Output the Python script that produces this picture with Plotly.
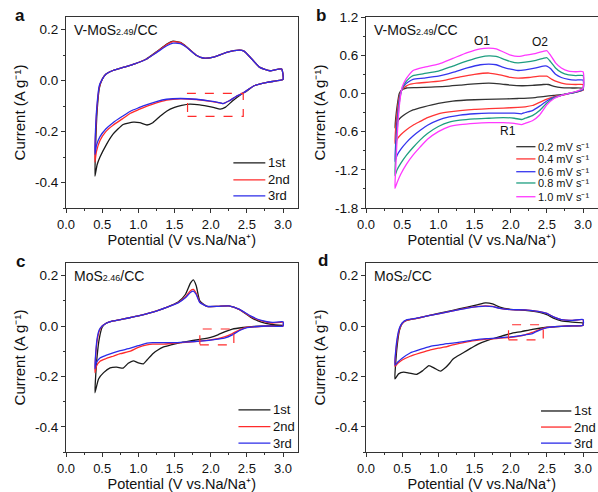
import plotly.graph_objects as go

# ---------------- data (potential in V, current in A/g) ----------------
cycle_names = ["1st", "2nd", "3rd"]
rate_names = ["0.2 mV s\u207b\u00b9", "0.4 mV s\u207b\u00b9", "0.6 mV s\u207b\u00b9",
              "0.8 mV s\u207b\u00b9", "1.0 mV s\u207b\u00b9"]

x_tick_vals = [0.0, 0.5, 1.0, 1.5, 2.0, 2.5, 3.0]
x_tick_text = ["0.0", "0.5", "1.0", "1.5", "2.0", "2.5", "3.0"]
y_tick_vals_small = [-0.4, -0.2, 0.0, 0.2]
y_tick_text_small = ["-0.4", "-0.2", "0.0", "0.2"]
y_tick_vals_b = [-1.8, -1.2, -0.6, 0.0, 0.6, 1.2]
y_tick_text_b = ["-1.8", "-1.2", "-0.6", "0.0", "0.6", "1.2"]

# panel a : V-MoS2.49/CC
a_1st_v = [3.00, 2.90, 2.78, 2.60, 2.50, 2.40, 2.30, 2.20, 2.13, 2.05, 1.95, 1.85, 1.71, 1.60, 1.50, 1.39, 1.30, 1.20,
           1.12, 1.02, 0.93, 0.79, 0.65, 0.56, 0.47, 0.43, 0.40,
           0.41, 0.43, 0.46, 0.50, 0.55, 0.65, 0.80, 0.95, 1.10, 1.25, 1.40, 1.48, 1.58, 1.67, 1.80, 1.90, 2.04,
           2.22, 2.40, 2.46, 2.54, 2.68, 2.82, 2.98, 3.00]
a_1st_i = [0.005, -0.001, -0.007, -0.02, -0.04, -0.058, -0.08, -0.105, -0.112, -0.106, -0.1, -0.095, -0.092, -0.097,
           -0.105, -0.12, -0.14, -0.165, -0.174, -0.165, -0.163, -0.172, -0.21, -0.25, -0.3, -0.33, -0.375,
           -0.25, -0.12, -0.03, 0.005, 0.025, 0.04, 0.053, 0.066, 0.083, 0.113, 0.145, 0.155, 0.15, 0.132, 0.1,
           0.088, 0.092, 0.111, 0.12, 0.116, 0.094, 0.052, 0.039, 0.046, 0.005]
a_2nd_v = [3.00, 2.90, 2.78, 2.60, 2.45, 2.35, 2.25, 2.17, 2.10, 2.00, 1.80, 1.58, 1.39, 1.25, 1.12, 1.00, 0.89, 0.78,
           0.65, 0.55, 0.47, 0.42, 0.40,
           0.41, 0.43, 0.46, 0.50, 0.55, 0.65, 0.80, 0.95, 1.10, 1.25, 1.40, 1.48, 1.58, 1.67, 1.80, 1.90, 2.04,
           2.22, 2.40, 2.46, 2.54, 2.68, 2.82, 2.98, 3.00]
a_2nd_i = [0.005, -0.001, -0.007, -0.02, -0.048, -0.062, -0.08, -0.09, -0.086, -0.081, -0.074, -0.071, -0.076, -0.087,
           -0.1, -0.114, -0.128, -0.15, -0.175, -0.2, -0.235, -0.28, -0.32,
           -0.2, -0.1, -0.025, 0.005, 0.025, 0.04, 0.053, 0.066, 0.083, 0.112, 0.143, 0.153, 0.149, 0.131, 0.1,
           0.089, 0.092, 0.111, 0.12, 0.116, 0.094, 0.052, 0.039, 0.046, 0.005]
a_3rd_v = [3.00, 2.90, 2.78, 2.60, 2.45, 2.35, 2.25, 2.17, 2.10, 2.00, 1.80, 1.58, 1.39, 1.25, 1.12, 1.00, 0.89, 0.78,
           0.65, 0.55, 0.47, 0.42, 0.40,
           0.41, 0.43, 0.46, 0.50, 0.55, 0.65, 0.80, 0.95, 1.10, 1.25, 1.40, 1.48, 1.58, 1.67, 1.80, 1.90, 2.04,
           2.22, 2.40, 2.46, 2.54, 2.68, 2.82, 2.98, 3.00]
a_3rd_i = [0.005, -0.001, -0.007, -0.02, -0.048, -0.062, -0.08, -0.09, -0.085, -0.08, -0.073, -0.07, -0.073, -0.082,
           -0.094, -0.107, -0.12, -0.14, -0.165, -0.19, -0.22, -0.255, -0.29,
           -0.18, -0.09, -0.02, 0.005, 0.025, 0.04, 0.053, 0.066, 0.083, 0.11, 0.138, 0.147, 0.145, 0.13, 0.1,
           0.089, 0.092, 0.111, 0.12, 0.116, 0.094, 0.052, 0.039, 0.046, 0.005]

# panel b : V-MoS2.49/CC at different scan rates
b_02_v = [3.00, 2.90, 2.75, 2.60, 2.45, 2.30, 2.10, 1.80, 1.50, 1.20, 1.00, 0.80, 0.65, 0.55, 0.48, 0.43, 0.40,
          0.41, 0.43, 0.46, 0.50, 0.56, 0.70, 0.90, 1.10, 1.30, 1.50, 1.70, 1.85, 2.00, 2.15, 2.30, 2.45, 2.52,
          2.60, 2.70, 2.85, 3.00, 3.00]
b_02_i = [0.05, 0.02, -0.01, -0.03, -0.05, -0.07, -0.08, -0.09, -0.10, -0.12, -0.155, -0.21, -0.26, -0.32, -0.38,
          -0.45, -0.54,
          -0.40, -0.20, 0.00, 0.06, 0.085, 0.09, 0.10, 0.11, 0.13, 0.15, 0.16, 0.15, 0.13, 0.12, 0.125, 0.14, 0.14,
          0.11, 0.09, 0.085, 0.08, 0.05]
b_04_v = [3.00, 2.90, 2.80, 2.70, 2.60, 2.50, 2.40, 2.30, 2.20, 2.10, 1.90, 1.70, 1.50, 1.30, 1.15, 1.00, 0.85, 0.75,
          0.65, 0.56, 0.48, 0.43, 0.40,
          0.41, 0.43, 0.46, 0.50, 0.55, 0.60, 0.70, 0.90, 1.10, 1.30, 1.50, 1.70, 1.85, 2.00, 2.10, 2.25, 2.40,
          2.50, 2.57, 2.65, 2.75, 2.90, 3.00, 3.00]
b_04_i = [0.05, 0.02, -0.005, -0.03, -0.05, -0.09, -0.14, -0.19, -0.21, -0.22, -0.23, -0.24, -0.25, -0.27, -0.29,
          -0.32, -0.38, -0.44, -0.50, -0.57, -0.65, -0.72, -0.79,
          -0.55, -0.30, -0.05, 0.06, 0.11, 0.14, 0.16, 0.18, 0.21, 0.26, 0.30, 0.32, 0.29, 0.25, 0.24, 0.25, 0.27,
          0.27, 0.22, 0.18, 0.15, 0.14, 0.14, 0.05]
b_06_v = [3.00, 2.90, 2.80, 2.70, 2.60, 2.50, 2.40, 2.30, 2.20, 2.15, 2.05, 1.90, 1.70, 1.50, 1.30, 1.15, 1.00, 0.85,
          0.75, 0.65, 0.56, 0.48, 0.43, 0.40,
          0.41, 0.43, 0.46, 0.50, 0.55, 0.60, 0.65, 0.80, 1.00, 1.20, 1.40, 1.58, 1.70, 1.80, 1.90, 2.00, 2.10,
          2.20, 2.35, 2.45, 2.50, 2.55, 2.62, 2.70, 2.80, 2.90, 3.00, 3.00]
b_06_i = [0.06, 0.02, -0.005, -0.03, -0.06, -0.12, -0.20, -0.27, -0.30, -0.32, -0.31, -0.31, -0.31, -0.32, -0.34,
          -0.37, -0.42, -0.50, -0.58, -0.67, -0.77, -0.88, -0.97, -1.07,
          -0.80, -0.45, -0.10, 0.07, 0.15, 0.19, 0.22, 0.24, 0.27, 0.33, 0.40, 0.45, 0.46, 0.45, 0.41, 0.38, 0.36,
          0.37, 0.40, 0.43, 0.43, 0.39, 0.30, 0.25, 0.22, 0.21, 0.21, 0.06]
b_08_v = [3.00, 2.90, 2.80, 2.70, 2.60, 2.50, 2.40, 2.30, 2.20, 2.15, 2.05, 1.90, 1.70, 1.50, 1.30, 1.15, 1.00, 0.85,
          0.75, 0.65, 0.56, 0.48, 0.43, 0.40,
          0.41, 0.43, 0.46, 0.50, 0.55, 0.60, 0.65, 0.80, 1.00, 1.20, 1.40, 1.58, 1.70, 1.80, 1.90, 2.00, 2.10,
          2.20, 2.35, 2.45, 2.50, 2.55, 2.62, 2.70, 2.80, 2.90, 3.00, 3.00]
b_08_i = [0.07, 0.025, 0.0, -0.03, -0.07, -0.15, -0.27, -0.35, -0.39, -0.41, -0.39, -0.38, -0.39, -0.40, -0.42,
          -0.45, -0.52, -0.63, -0.73, -0.85, -0.97, -1.10, -1.20, -1.29,
          -1.00, -0.60, -0.15, 0.08, 0.18, 0.24, 0.28, 0.31, 0.35, 0.43, 0.51, 0.57, 0.59, 0.58, 0.54, 0.50, 0.48,
          0.49, 0.52, 0.55, 0.56, 0.50, 0.40, 0.33, 0.29, 0.28, 0.28, 0.07]
b_10_v = [3.00, 2.90, 2.80, 2.70, 2.60, 2.50, 2.40, 2.30, 2.20, 2.15, 2.05, 1.90, 1.70, 1.50, 1.30, 1.15, 1.00, 0.85,
          0.75, 0.65, 0.56, 0.48, 0.43, 0.40,
          0.41, 0.43, 0.46, 0.50, 0.55, 0.60, 0.65, 0.80, 1.00, 1.20, 1.40, 1.58, 1.70, 1.80, 1.90, 2.00, 2.10,
          2.20, 2.35, 2.45, 2.50, 2.55, 2.62, 2.70, 2.80, 2.90, 3.00, 3.00]
b_10_i = [0.08, 0.03, 0.0, -0.03, -0.08, -0.18, -0.34, -0.43, -0.47, -0.49, -0.47, -0.46, -0.46, -0.47, -0.49,
          -0.52, -0.60, -0.72, -0.84, -0.97, -1.11, -1.27, -1.40, -1.49,
          -1.20, -0.70, -0.20, 0.10, 0.22, 0.30, 0.36, 0.41, 0.46, 0.55, 0.64, 0.70, 0.71, 0.70, 0.65, 0.60, 0.58,
          0.60, 0.63, 0.66, 0.67, 0.60, 0.48, 0.40, 0.35, 0.34, 0.34, 0.08]

# panel c : MoS2.46/CC
c_1st_v = [3.00, 2.80, 2.60, 2.45, 2.30, 2.20, 2.10, 2.00, 1.85, 1.70, 1.58, 1.45, 1.35, 1.27, 1.20, 1.12, 1.07, 1.00,
           0.93, 0.86, 0.79, 0.70, 0.61, 0.52, 0.45, 0.40,
           0.41, 0.43, 0.46, 0.50, 0.55, 0.65, 0.80, 1.00, 1.20, 1.40, 1.55, 1.65, 1.72, 1.76, 1.80, 1.85, 1.95,
           2.10, 2.25, 2.40, 2.55, 2.70, 2.85, 3.00]
c_1st_i = [0.0, 0.0, -0.002, -0.006, -0.012, -0.022, -0.035, -0.045, -0.053, -0.06, -0.066, -0.075, -0.083, -0.095,
           -0.11, -0.135, -0.15, -0.146, -0.138, -0.148, -0.167, -0.163, -0.166, -0.185, -0.21, -0.265,
           -0.2, -0.12, -0.05, -0.005, 0.01, 0.02, 0.028, 0.04, 0.055, 0.075, 0.095, 0.125, 0.17, 0.183, 0.16, 0.1,
           0.078, 0.078, 0.08, 0.065, 0.035, 0.015, 0.006, 0.002]
c_2nd_v = [3.00, 2.80, 2.60, 2.50, 2.40, 2.30, 2.20, 2.10, 2.00, 1.85, 1.70, 1.50, 1.35, 1.20, 1.12, 1.00, 0.89, 0.75,
           0.65, 0.55, 0.47, 0.42, 0.40,
           0.41, 0.43, 0.46, 0.50, 0.55, 0.65, 0.80, 1.00, 1.20, 1.40, 1.55, 1.65, 1.72, 1.76, 1.80, 1.85, 1.95,
           2.10, 2.25, 2.40, 2.55, 2.70, 2.85, 3.00, 3.00]
c_2nd_i = [0.0, 0.0, -0.003, -0.005, -0.015, -0.03, -0.042, -0.05, -0.055, -0.06, -0.064, -0.068, -0.072, -0.072,
           -0.075, -0.085, -0.1, -0.11, -0.12, -0.13, -0.14, -0.16, -0.185,
           -0.12, -0.06, -0.02, 0.0, 0.01, 0.02, 0.028, 0.04, 0.055, 0.075, 0.093, 0.115, 0.14, 0.145, 0.13, 0.095,
           0.078, 0.078, 0.08, 0.065, 0.038, 0.02, 0.012, 0.015, 0.0]
c_3rd_v = [3.00, 2.80, 2.60, 2.50, 2.40, 2.30, 2.20, 2.10, 2.00, 1.85, 1.70, 1.50, 1.35, 1.20, 1.12, 1.00, 0.89, 0.75,
           0.65, 0.55, 0.47, 0.42, 0.40,
           0.41, 0.43, 0.46, 0.50, 0.55, 0.65, 0.80, 1.00, 1.20, 1.40, 1.55, 1.65, 1.72, 1.76, 1.80, 1.85, 1.95,
           2.10, 2.25, 2.40, 2.55, 2.70, 2.85, 3.00, 3.00]
c_3rd_i = [0.0, 0.0, -0.003, -0.006, -0.018, -0.035, -0.047, -0.052, -0.056, -0.06, -0.063, -0.066, -0.066, -0.066,
           -0.068, -0.078, -0.088, -0.098, -0.107, -0.117, -0.127, -0.145, -0.17,
           -0.11, -0.05, -0.015, 0.0, 0.01, 0.02, 0.028, 0.04, 0.055, 0.075, 0.092, 0.112, 0.133, 0.138, 0.125,
           0.093, 0.078, 0.078, 0.08, 0.066, 0.04, 0.022, 0.014, 0.017, 0.0]

# panel d : MoS2/CC
d_1st_v = [3.00, 2.80, 2.60, 2.50, 2.30, 2.15, 2.00, 1.85, 1.70, 1.55, 1.45, 1.35, 1.25, 1.20, 1.15, 1.10, 1.03, 0.95,
           0.87, 0.78, 0.70, 0.60, 0.52, 0.45, 0.40,
           0.41, 0.43, 0.46, 0.50, 0.56, 0.70, 0.85, 1.00, 1.20, 1.40, 1.55, 1.65, 1.75, 1.85, 2.00, 2.20, 2.40,
           2.50, 2.60, 2.70, 2.85, 3.00, 3.00]
d_1st_i = [0.003, 0.0, -0.003, -0.005, -0.013, -0.022, -0.03, -0.042, -0.055, -0.072, -0.088, -0.105, -0.122, -0.132,
           -0.15, -0.165, -0.179, -0.168, -0.157, -0.178, -0.192, -0.187, -0.183, -0.19, -0.21,
           -0.15, -0.08, -0.02, 0.01, 0.022, 0.03, 0.04, 0.05, 0.062, 0.075, 0.085, 0.092, 0.088, 0.075, 0.066,
           0.062, 0.054, 0.045, 0.03, 0.02, 0.015, 0.012, 0.003]
d_2nd_v = [3.00, 2.80, 2.60, 2.50, 2.40, 2.30, 2.20, 2.00, 1.80, 1.67, 1.50, 1.35, 1.20, 1.12, 1.00, 0.89, 0.75, 0.61,
           0.50, 0.44, 0.40,
           0.41, 0.43, 0.46, 0.50, 0.56, 0.70, 0.85, 1.00, 1.20, 1.40, 1.55, 1.65, 1.75, 1.85, 2.00, 2.20, 2.40,
           2.50, 2.60, 2.70, 2.85, 3.00, 3.00]
d_2nd_i = [0.003, 0.0, -0.003, -0.006, -0.014, -0.025, -0.035, -0.045, -0.05, -0.052, -0.058, -0.066, -0.075, -0.082,
           -0.088, -0.095, -0.107, -0.12, -0.135, -0.148, -0.16,
           -0.11, -0.06, -0.015, 0.01, 0.022, 0.03, 0.04, 0.048, 0.06, 0.072, 0.078, 0.08, 0.078, 0.07, 0.065,
           0.064, 0.057, 0.05, 0.035, 0.025, 0.022, 0.025, 0.003]
d_3rd_v = [3.00, 2.80, 2.60, 2.50, 2.40, 2.30, 2.20, 2.00, 1.80, 1.67, 1.50, 1.35, 1.20, 1.12, 1.00, 0.89, 0.75, 0.61,
           0.50, 0.44, 0.40,
           0.41, 0.43, 0.46, 0.50, 0.56, 0.70, 0.85, 1.00, 1.20, 1.40, 1.55, 1.65, 1.75, 1.85, 2.00, 2.20, 2.40,
           2.50, 2.60, 2.70, 2.85, 3.00, 3.00]
d_3rd_i = [0.003, 0.0, -0.003, -0.006, -0.016, -0.03, -0.035, -0.043, -0.048, -0.05, -0.055, -0.062, -0.068, -0.07,
           -0.076, -0.081, -0.093, -0.107, -0.128, -0.143, -0.155,
           -0.1, -0.05, -0.01, 0.012, 0.024, 0.031, 0.04, 0.048, 0.06, 0.071, 0.077, 0.079, 0.077, 0.07, 0.065,
           0.064, 0.057, 0.05, 0.035, 0.025, 0.022, 0.026, 0.003]

# ---------------- styles ----------------
cycle_colors = ["#1a1a1a", "#ff2b2b", "#2b2be8"]
rate_colors = ["#333333", "#ff3535", "#3535ee", "#1e9e80", "#ff38ff"]
FONT = "Arial, Liberation Sans, sans-serif"
AX = "#333333"

fig = go.Figure()


def add_curve(v, i, color, name, xa, ya):
    fig.add_trace(go.Scatter(x=v, y=i, mode="lines", name=name, showlegend=False,
                             line=dict(color=color, width=1.3, shape="spline", smoothing=0.5),
                             xaxis=xa, yaxis=ya, hoverinfo="skip"))


panel_a = [(a_1st_v, a_1st_i), (a_2nd_v, a_2nd_i), (a_3rd_v, a_3rd_i)]
panel_b = [(b_02_v, b_02_i), (b_04_v, b_04_i), (b_06_v, b_06_i), (b_08_v, b_08_i), (b_10_v, b_10_i)]
panel_c = [(c_1st_v, c_1st_i), (c_2nd_v, c_2nd_i), (c_3rd_v, c_3rd_i)]
panel_d = [(d_1st_v, d_1st_i), (d_2nd_v, d_2nd_i), (d_3rd_v, d_3rd_i)]

for k, (v, i) in enumerate(panel_a):
    add_curve(v, i, cycle_colors[k], cycle_names[k], "x", "y")
for k, (v, i) in enumerate(panel_b):
    add_curve(v, i, rate_colors[k], rate_names[k], "x2", "y2")
for k, (v, i) in enumerate(panel_c):
    add_curve(v, i, cycle_colors[k], cycle_names[k], "x3", "y3")
for k, (v, i) in enumerate(panel_d):
    add_curve(v, i, cycle_colors[k], cycle_names[k], "x4", "y4")

W, H = 598, 492
left_dom = [66 / W, 297.5 / W]
right_dom = [366 / W, 597.5 / W]
top_dom = [1 - 208 / H, 1 - 17 / H]
bot_dom = [1 - 452 / H, 1 - 263 / H]


def xaxis(domain, anchor):
    return dict(domain=domain, anchor=anchor, range=[0, 3.2], automargin=False, tickmode="array",
                tickvals=x_tick_vals, ticktext=x_tick_text, ticks="outside", ticklen=4, tickwidth=1, tickcolor=AX,
                showline=True, linecolor=AX, linewidth=1, mirror=True, showgrid=False, zeroline=False,
                minor=dict(dtick=0.25, tick0=0, ticks="outside", ticklen=2, tickcolor=AX, showgrid=False),
                tickfont=dict(size=13, color="#111", family=FONT),
                title=dict(text="Potential (V vs.Na/Na\u207a)", font=dict(size=14.5, color="#111", family=FONT),
                           standoff=1))


def yaxis(domain, anchor, rng, vals, text, minor_dt):
    return dict(domain=domain, anchor=anchor, range=rng, automargin=False, tickmode="array", tickvals=vals,
                ticktext=text, ticks="outside", ticklen=4, tickwidth=1, tickcolor=AX,
                showline=True, linecolor=AX, linewidth=1, mirror=True, showgrid=False, zeroline=False,
                minor=dict(dtick=minor_dt, tick0=0, ticks="outside", ticklen=2, tickcolor=AX, showgrid=False),
                tickfont=dict(size=13.5, color="#111", family=FONT),
                title=dict(text="Current (A g\u207b\u00b9)", font=dict(size=15, color="#111", family=FONT),
                           standoff=5))


fig.update_layout(
    width=W, height=H, margin=dict(l=0, r=0, t=0, b=0, pad=0), autosize=False,
    paper_bgcolor="white", plot_bgcolor="white", font=dict(family=FONT, color="#111"),
    xaxis=xaxis(left_dom, "y"),
    yaxis=yaxis(top_dom, "x", [-0.5, 0.25], y_tick_vals_small, y_tick_text_small, 0.1),
    xaxis2=xaxis(right_dom, "y2"),
    yaxis2=yaxis(top_dom, "x2", [-1.8, 1.2], y_tick_vals_b, y_tick_text_b, 0.3),
    xaxis3=xaxis(left_dom, "y3"),
    yaxis3=yaxis(bot_dom, "x3", [-0.5, 0.25], y_tick_vals_small, y_tick_text_small, 0.1),
    xaxis4=xaxis(right_dom, "y4"),
    yaxis4=yaxis(bot_dom, "x4", [-0.5, 0.25], y_tick_vals_small, y_tick_text_small, 0.1),
)

ann = []
shapes = []

# panel letters
for letter, px, py in [("a", 20, 16), ("b", 321, 16), ("c", 20, 261), ("d", 323, 260)]:
    ann.append(dict(text=letter, x=px / W, y=1 - py / H, xref="paper", yref="paper",
                    showarrow=False, xanchor="center", yanchor="middle",
                    font=dict(size=17, color="#111", family=FONT, weight="bold")))

# sample names
SUB = "<span style='font-size:9px'>%s</span>"
for txt, ax_id in [("V-MoS" + SUB % "2.49" + "/CC", ""), ("V-MoS" + SUB % "2.49" + "/CC", "2"),
                   ("MoS" + SUB % "2.46" + "/CC", "3"), ("MoS" + SUB % "2" + "/CC", "4")]:
    ann.append(dict(text=txt, x=0.025, y=0.93, xref="x%s domain" % ax_id, yref="y%s domain" % ax_id,
                    showarrow=False, xanchor="left", yanchor="middle", font=dict(size=14, color="#111", family=FONT)))

# peak labels panel b
for txt, xv, yv in [("O1", 1.60, 0.82), ("O2", 2.41, 0.81), ("R1", 1.96, -0.59)]:
    ann.append(dict(text=txt, x=xv, y=yv, xref="x2", yref="y2", showarrow=False,
                    font=dict(size=12, color="#111", family=FONT)))


# manual legends
def legend(ax_id, names, colors, x0, x1, xt, ys, fsize):
    for n, c, yy in zip(names, colors, ys):
        shapes.append(dict(type="line", xref="x%s domain" % ax_id, yref="y%s domain" % ax_id,
                           x0=x0, x1=x1, y0=yy, y1=yy, line=dict(color=c, width=1.3)))
        ann.append(dict(text=n, x=xt, y=yy, xref="x%s domain" % ax_id, yref="y%s domain" % ax_id,
                        showarrow=False, xanchor="left", yanchor="middle",
                        font=dict(size=fsize, color="#111", family=FONT)))


legend("", cycle_names, cycle_colors, 0.723, 0.861, 0.866, [0.236, 0.147, 0.063], 13)
legend("2", rate_names, rate_colors, 0.649, 0.732, 0.736, [0.321, 0.257, 0.190, 0.131, 0.059], 11)
legend("3", cycle_names, cycle_colors, 0.745, 0.883, 0.886, [0.223, 0.134, 0.047], 13)
legend("4", cycle_names, cycle_colors, 0.756, 0.887, 0.891, [0.217, 0.132, 0.047], 13)

# red dashed boxes
for ax_id, x0, x1, y0, y1 in [("", 1.68, 2.45, -0.14, -0.05), ("3", 1.85, 2.32, -0.075, -0.012),
                              ("4", 1.97, 2.45, -0.055, 0.005)]:
    shapes.append(dict(type="rect", xref="x%s" % ax_id, yref="y%s" % ax_id, x0=x0, x1=x1, y0=y0, y1=y1,
                       line=dict(color="#ff2b2b", width=1.2, dash="dash")))

fig.update_layout(annotations=ann, shapes=shapes)

fig.write_html("out.html", config={"displayModeBar": False},
               post_script="document.body.style.margin='0';")
